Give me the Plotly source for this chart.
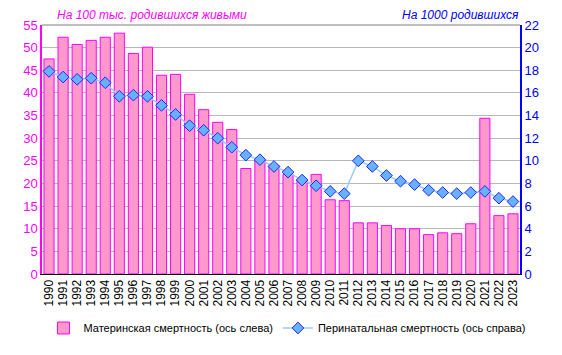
import plotly.graph_objects as go

years = [str(y) for y in range(1990, 2024)]
maternal = [47.5, 52.3, 50.7, 51.6, 52.3, 53.2, 48.7, 50.1, 43.9, 44.1,
            39.7, 36.3, 33.5, 31.9, 23.3, 25.4, 24.0, 22.0, 20.7, 22.0,
            16.4, 16.2, 11.3, 11.3, 10.7, 10.0, 10.0, 8.7, 9.1, 8.9,
            11.1, 34.4, 12.9, 13.3]
perinatal = [17.9, 17.4, 17.2, 17.3, 16.9, 15.7, 15.8, 15.7, 14.9, 14.1,
             13.1, 12.7, 12.0, 11.2, 10.5, 10.1, 9.5, 9.0, 8.3, 7.8,
             7.3, 7.1, 10.0, 9.5, 8.7, 8.2, 7.9, 7.4, 7.2, 7.1,
             7.2, 7.3, 6.7, 6.4]

name_bar = "Материнская смертность (ось слева)"
name_line = "Перинатальная смертность (ось справа)"
title_left = "На 100 тыс. родившихся живыми"
title_right = "На 1000 родившихся"

FONT = "Arial, Liberation Sans, sans-serif"
OFF = 8  # page body margin in the browser
W, H = 562 - OFF, 355 - OFF
# plot area pixel box (in reference window coords), shifted for the body margin
PL, PR, PT, PB = 42 - OFF, 520 - OFF, 25 - OFF, 274 - OFF

fig = go.Figure()
fig.add_trace(go.Bar(
    x=years, y=maternal, name=name_bar,
    marker=dict(color="#FF99CC", line=dict(color="#FF00FF", width=1)),
    yaxis="y",
))
fig.add_trace(go.Scatter(
    x=years, y=perinatal, name=name_line, mode="lines+markers",
    line=dict(color="#99CCFF", width=1.5),
    marker=dict(symbol="diamond", size=9, color="#66B2FF",
                line=dict(color="#2222FF", width=1)),
    yaxis="y2",
))

ph = PB - PT
def px2py(py):
    return (PB - (py - OFF)) / ph

fig.update_layout(
    width=W, height=H,
    margin=dict(l=0, r=0, t=PT, b=H - PB),
    paper_bgcolor="white", plot_bgcolor="white",
    font=dict(family=FONT, size=12, color="black"),
    bargap=0.28,
    showlegend=True,
    legend=dict(orientation="h", x=(287 - OFF) / W, xanchor="center", y=px2py(328),
                yanchor="middle", font=dict(size=11, color="black"), itemwidth=30,
                bgcolor="rgba(0,0,0,0)"),
    xaxis=dict(type="category", domain=[PL / W, PR / W], range=[-0.5, len(years) - 0.5],
               tickangle=-90, showline=True,
               linecolor="black", linewidth=1, showgrid=False, ticks="",
               tickmode="linear", dtick=1, automargin=False,
               tickfont=dict(size=12, color="black")),
    yaxis=dict(range=[0, 55], dtick=5, showline=True, linecolor="#FF00FF", linewidth=1.5,
               showgrid=True, gridcolor="#B8B8B8", gridwidth=1, zeroline=False,
               automargin=False, tickfont=dict(size=13, color="#FF00FF"), ticks=""),
    yaxis2=dict(range=[0, 22], dtick=2, overlaying="y", side="right", showline=True,
                linecolor="#0000FF", linewidth=2, showgrid=False, zeroline=False,
                automargin=False, tickfont=dict(size=13, color="#0000FF"), ticks=""),
    annotations=[
        dict(text="<i>" + title_left + "</i>", xref="paper", yref="paper",
             x=(152 - OFF) / W, y=px2py(15), showarrow=False,
             font=dict(size=12, color="#FF00FF", family=FONT), xanchor="center", yanchor="middle"),
        dict(text="<i>" + title_right + "</i>", xref="paper", yref="paper",
             x=(521 - OFF) / W, y=px2py(15), showarrow=False,
             font=dict(size=12, color="#0000FF", family=FONT), xanchor="right", yanchor="middle"),
    ],
)
fig.add_shape(type="line", xref="paper", yref="paper", x0=PL / W, x1=PR / W, y0=1, y1=1,
              line=dict(color="#808080", width=1))

fig.write_html("out.html")
